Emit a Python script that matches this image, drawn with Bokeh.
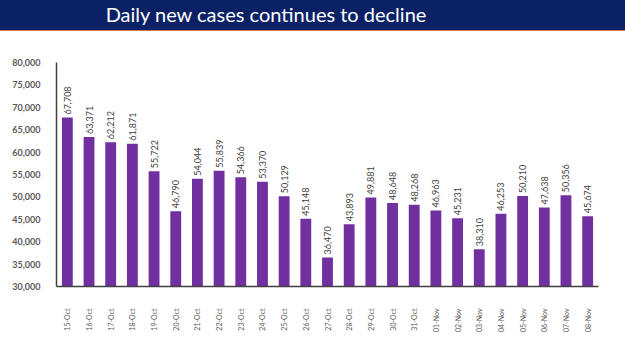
import math
from bokeh.plotting import figure
from bokeh.layouts import column
from bokeh.models import (ColumnDataSource, NumeralTickFormatter, FixedTicker,
                          Arrow, NormalHead, Label, Range1d, Div)
from bokeh.core.properties import value
from bokeh.embed import file_html
from bokeh.resources import INLINE

dates = ["15-Oct", "16-Oct", "17-Oct", "18-Oct", "19-Oct", "20-Oct", "21-Oct",
         "22-Oct", "23-Oct", "24-Oct", "25-Oct", "26-Oct", "27-Oct", "28-Oct",
         "29-Oct", "30-Oct", "31-Oct", "01-Nov", "02-Nov", "03-Nov", "04-Nov",
         "05-Nov", "06-Nov", "07-Nov", "08-Nov"]
cases = [67708, 63371, 62212, 61871, 55722, 46790, 54044, 55839, 54366, 53370,
         50129, 45148, 36470, 43893, 49881, 48648, 48268, 46963, 45231, 38310,
         46253, 50210, 47638, 50356, 45674]
trend_start = 59450
trend_end = 42100
y_ticks = [30000, 35000, 40000, 45000, 50000, 55000, 60000, 65000, 70000, 75000, 80000]
title_text = "Daily new cases continues to decline"

FONT = "Lato"

# ---- banner ----
banner = Div(text=title_text, width=625, height=31, margin=0,
             styles={"background-color": "#0A2166", "color": "white",
                     "font-family": FONT, "font-size": "20px",
                     "text-align": "center", "line-height": "29px",
                     "box-sizing": "border-box", "padding-right": "93px",
                     "border-bottom": "1.5px solid #C9794A",
                     "width": "625px", "height": "31px", "white-space": "nowrap"})

# ---- chart ----
src = ColumnDataSource(dict(d=dates, v=cases, lab=[f"{c:,}" for c in cases]))
p = figure(width=625, height=320, x_range=dates, y_range=Range1d(30000, 80000),
           output_backend="svg", toolbar_location=None,
           min_border_left=56, min_border_right=27, min_border_top=31, min_border_bottom=65,
           outline_line_color=None, margin=0)
p.vbar(x="d", top="v", bottom=30000, width=0.5, source=src,
       fill_color="#7030A0", line_color=None)
p.text(x="d", y="v", text="lab", source=src, angle=math.pi / 2,
       text_align="left", text_baseline="middle", y_offset=-3,
       text_font=value(FONT), text_font_size="9px", text_color="#404040")

p.add_layout(Arrow(x_start=dates[0], y_start=trend_start, x_end=dates[-1], y_end=trend_end,
                   line_color="#F5B800", line_width=1.3,
                   end=NormalHead(size=5, fill_color="#F5B800", line_color="#F5B800")))

p.grid.visible = False
p.yaxis.ticker = FixedTicker(ticks=y_ticks)
p.yaxis.formatter = NumeralTickFormatter(format="0,0")
for ax in (p.xaxis[0], p.yaxis[0]):
    ax.major_tick_line_color = None
    ax.minor_tick_line_color = None
    ax.axis_line_color = "#404040"
    ax.axis_line_width = 1.5
    ax.major_label_text_font = FONT
    ax.major_label_text_color = "#595959"
p.yaxis.major_label_text_font_size = "9px"
p.yaxis.major_label_text_font_style = "bold"
p.yaxis.major_label_standoff = 10
p.xaxis.major_label_orientation = math.pi / 2
p.xaxis.major_label_text_font_size = "7px"
p.xaxis.major_label_standoff = 16
p.x_range.range_padding = 0

p.add_layout(Label(x=542, y=-55, x_units="screen", y_units="screen", text="5",
                   text_font=FONT, text_font_size="8px", text_color="#A0A0A0"))

layout = column(banner, p, spacing=0)
open("out.html", "w").write(file_html(layout, INLINE))
